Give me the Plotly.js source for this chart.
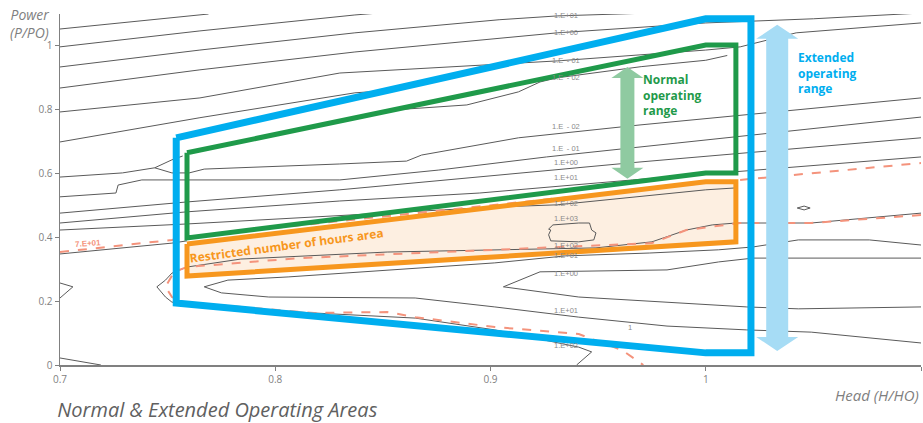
<!DOCTYPE html>
<html><head><meta charset="utf-8">
<script src="https://cdn.plot.ly/plotly-3.0.1.min.js"></script>
<style>body{margin:0;background:#fff}#c{width:923px;height:423px}</style>
</head><body><div id="c"></div>
<script>
// ---- contour lines (x = Head H/HO, y = Power P/PO) ----
const C1 = [[0.700,1.053],[0.769,1.100]];
const C2 = [[0.700,0.997],[0.765,1.047],[0.837,1.097],[0.848,1.103]];
const C3 = [[0.700,0.934],[0.765,0.987],[0.837,1.041],[0.904,1.082],[0.931,1.094],[0.974,1.103]];
const C4 = [[0.700,0.868],[0.765,0.925],[0.837,0.981],[0.931,1.041],[1.000,1.072],[1.050,1.085],[1.100,1.103]];
const C5 = [[0.700,0.793],[0.765,0.837],[0.830,0.915],[0.931,0.953],[1.000,0.987],[1.016,0.997],[1.042,1.041],[1.100,1.072]];
const C6 = [[0.700,0.699],[0.765,0.775],[0.837,0.853],[0.852,0.860]];
const K1 = [[0.854,0.799],[0.889,0.815],[0.913,0.856],[0.923,0.887],[0.931,0.900],[0.970,0.935],[1.000,0.955],[1.010,0.970]];
const M1 = [[0.700,0.589],[0.729,0.602],[0.744,0.618],[0.752,0.643],[0.757,0.655]];
const M1b = [[0.744,0.618],[0.752,0.602],[0.760,0.602],[0.767,0.614],[0.830,0.630],[0.861,0.639],[0.868,0.658],[0.913,0.712],[0.969,0.752],[1.100,0.837]];
const M2 = [[0.700,0.527],[0.726,0.539],[0.727,0.564],[0.738,0.580],[0.830,0.580],[0.876,0.611],[0.926,0.652],[0.969,0.683],[1.100,0.777]];
const M3 = [[0.700,0.476],[0.759,0.511],[0.830,0.549],[0.969,0.636],[1.100,0.712]];
const M4 = [[0.700,0.445],[0.759,0.480],[0.830,0.514],[0.895,0.539],[0.966,0.580],[1.100,0.652]];
const M5 = [[0.700,0.423],[0.759,0.442],[0.902,0.495],[0.931,0.502],[1.000,0.549],[1.014,0.555]];
const G7 = [[0.700,0.348],[0.752,0.382],[0.759,0.389]];
const L1 = [[1.100,0.476],[1.049,0.445],[1.014,0.445],[1.003,0.439],[0.991,0.423],[0.975,0.386],[0.949,0.367],[0.895,0.361],[0.852,0.354],[0.784,0.332],[0.759,0.307],[0.752,0.288],[0.749,0.266],[0.745,0.245],[0.749,0.213],[0.752,0.197],[0.788,0.176],[0.818,0.163],[0.865,0.147],[0.902,0.110],[0.931,0.069],[0.941,0.056],[0.947,0.041],[0.940,0.000]];
const L2 = [[1.100,0.376],[1.076,0.392],[1.043,0.392],[1.022,0.370],[1.006,0.361],[0.974,0.351],[0.935,0.342],[0.902,0.320],[0.806,0.276],[0.778,0.266],[0.767,0.245],[0.775,0.226],[0.797,0.213],[0.865,0.210],[0.902,0.182],[0.941,0.150],[0.982,0.122],[1.019,0.110],[1.049,0.103],[1.100,0.069]];
const L3 = [[1.100,0.335],[1.022,0.335],[1.006,0.323],[0.996,0.313],[0.982,0.298],[0.923,0.292],[0.906,0.245],[0.941,0.213],[1.019,0.182],[1.043,0.176],[1.100,0.182]];
const B1 = [[0.700,0.022],[0.719,0.000]];
const B2 = [[0.700,0.257],[0.706,0.245],[0.700,0.210]];
const LOOP3 = [[0.927,0.426],[0.929,0.439],[0.941,0.445],[0.946,0.445],[0.947,0.423],[0.949,0.414],[0.948,0.392],[0.941,0.386],[0.928,0.389],[0.927,0.408],[0.928,0.423],[0.927,0.426]];
const TINY = [[1.0425,0.492],[1.0457,0.498],[1.0485,0.492],[1.0457,0.486],[1.0425,0.492]];
const grayLines = [C1,C2,C3,C4,C5,C6,K1,M1,M1b,M2,M3,M4,M5,G7,L1,L2,L3,B1,B2,LOOP3,TINY];

// dashed 7.E+01 contour
const D1 = [[0.700,0.354],[0.752,0.392],[0.759,0.401],[0.902,0.502],[1.000,0.571],[1.016,0.580],[1.100,0.633]];
const D2 = [[1.100,0.470],[1.049,0.445],[1.016,0.445],[0.991,0.423],[0.975,0.382],[0.902,0.361],[0.811,0.335],[0.759,0.307],[0.753,0.292],[0.749,0.245],[0.752,0.213],[0.757,0.197],[0.818,0.163],[0.852,0.166],[0.865,0.150],[0.902,0.119],[0.941,0.097],[0.961,0.047],[0.971,0.000]];

// operating areas
const extendedArea = [[0.754,0.712],[1.000,1.085],[1.021,1.085],[1.021,0.038],[1.000,0.038],[0.754,0.194],[0.754,0.712]];
const normalArea = [[0.759,0.665],[1.000,1.003],[1.014,1.003],[1.014,0.602],[1.000,0.602],[0.759,0.398],[0.759,0.665]];
const restrictedArea = [[0.759,0.379],[1.000,0.574],[1.014,0.574],[1.014,0.386],[0.759,0.279],[0.759,0.379]];

// range arrows: [x, yBottom, yTop]
const normalArrow = [0.9636, 0.584, 0.934];
const extendedArrow = [1.0332, 0.044, 1.066];

// contour labels
const labelText = ["1.E+01","1.E+00","1.E\u2009 - 01","1.E\u2009 - 02","1.E\u2009 - 02","1.E\u2009 - 01","1.E+00","1.E+01","1.E+02","1.E+03","1.E+02","1.E+01","1.E+00","1.E+01","1","1.E+02"];
const labelX = [0.935,0.935,0.935,0.935,0.935,0.935,0.935,0.935,0.935,0.935,0.935,0.935,0.935,0.935,0.965,0.935];
const labelY = [1.094,1.041,0.953,0.900,0.746,0.680,0.636,0.589,0.505,0.458,0.373,0.342,0.288,0.172,0.119,0.060];

const xTicks = [0.7,0.8,0.9,1,1.1];
const yTicks = [0,0.2,0.4,0.6,0.8,1];

const xs = l => l.map(p=>p[0]), ys = l => l.map(p=>p[1]);
const traces = [];
// restricted-area fill under the contours
traces.push({x:xs(restrictedArea), y:ys(restrictedArea), mode:'lines', fill:'toself', fillcolor:'#fdefe1', line:{width:0, color:'rgba(0,0,0,0)'}, hoverinfo:'skip', showlegend:false});
grayLines.forEach(l => traces.push({x:xs(l), y:ys(l), mode:'lines', line:{color:'#5a5a5a', width:1}, hoverinfo:'skip', showlegend:false}));
[D1,D2].forEach(l => traces.push({x:xs(l), y:ys(l), mode:'lines', line:{color:'#f4937c', width:2, dash:'dash'}, hoverinfo:'skip', showlegend:false}));
traces.push({x:xs(restrictedArea), y:ys(restrictedArea), mode:'lines', line:{color:'#f7971e', width:5}, hoverinfo:'skip', showlegend:false});
traces.push({x:xs(normalArea), y:ys(normalArea), mode:'lines', line:{color:'#1f9a4a', width:5}, hoverinfo:'skip', showlegend:false});
traces.push({x:xs(extendedArea), y:ys(extendedArea), mode:'lines', line:{color:'#00aeef', width:7}, hoverinfo:'skip', showlegend:false});

// arrow shapes (sizes in px converted through axis scale)
const xPerPx = 0.4/861, yPerPx = 1.1/351;
function arrowPath(a, shaftPx, headPx, headHPx){
  const [x, y0, y1] = a;
  const s = shaftPx/2*xPerPx, h = headPx/2*xPerPx, hh = headHPx*yPerPx;
  const pts = [[x,y1],[x+h,y1-hh],[x+s,y1-hh],[x+s,y0+hh],[x+h,y0+hh],[x,y0],[x-h,y0+hh],[x-s,y0+hh],[x-s,y1-hh],[x-h,y1-hh]];
  return 'M' + pts.map(p=>p[0]+','+p[1]).join(' L') + ' Z';
}
const shapes = [
  {type:'path', xref:'x', yref:'y', path:arrowPath(normalArrow,14,32,11), fillcolor:'#8fcaa1', line:{width:0}, layer:'above'},
  {type:'path', xref:'x', yref:'y', path:arrowPath(extendedArrow,22,42,14), fillcolor:'#a6dcf5', line:{width:0}, layer:'above'}
];

const annotations = labelText.map((t,i)=>({x:labelX[i], y:labelY[i], text:t, showarrow:false, font:{family:'Liberation Sans, Arial', size:7.5, color:'#8a8a8a'}}));
annotations.push({x:0.713, y:0.382, text:'7.E+01', showarrow:false, textangle:-4, font:{family:'Liberation Sans, Arial', size:8, color:'#f4937c', weight:700}});
annotations.push({x:0.970, y:0.846, xanchor:'left', align:'left', text:'Normal<br>operating<br>range', showarrow:false, font:{family:'Open Sans', size:12, color:'#1f9a4a', weight:700}});
annotations.push({x:1.042, y:0.915, xanchor:'left', align:'left', text:'Extended<br>operating<br>range', showarrow:false, font:{family:'Open Sans', size:12, color:'#00aeef', weight:700}});
annotations.push({x:0.805, y:0.373, text:'Restricted number of hours area', showarrow:false, textangle:-7.5, font:{family:'Open Sans', size:12, color:'#f7971e', weight:700}});
annotations.push({xref:'paper', yref:'paper', x:-0.011, y:1.0, xanchor:'right', yanchor:'bottom', align:'right', text:'<i>Power<br>(P/PO)</i>', showarrow:false, yshift:-30, font:{family:'Open Sans', size:14, color:'#7f7f7f'}});
annotations.push({xref:'paper', yref:'paper', x:1.0, y:0, xanchor:'right', yanchor:'top', text:'<i>Head (H/HO)</i>', showarrow:false, yshift:-18, font:{family:'Open Sans', size:15, color:'#7f7f7f'}});

const layout = {
  width:923, height:423,
  margin:{l:60, r:2, t:14, b:58},
  paper_bgcolor:'#fff', plot_bgcolor:'#fff',
  showlegend:false,
  title:{text:'<i>Normal & Extended Operating Areas</i>', x:0.062, xanchor:'left', y:0.03, yanchor:'middle', font:{family:'Open Sans', size:20, color:'#606060'}},
  xaxis:{range:[0.7,1.1], tickvals:xTicks, ticktext:xTicks.map(String), showgrid:false, zeroline:false, showline:true, linecolor:'#808080', linewidth:1.5, ticks:'outside', ticklen:4, tickcolor:'#808080', tickfont:{family:'Open Sans', size:10, color:'#7f7f7f'}},
  yaxis:{range:[0,1.1], tickvals:yTicks, ticktext:yTicks.map(String), showgrid:false, zeroline:false, showline:true, linecolor:'#808080', linewidth:1.5, ticks:'outside', ticklen:4, tickcolor:'#808080', tickfont:{family:'Open Sans', size:10, color:'#7f7f7f'}},
  shapes:shapes, annotations:annotations
};
Plotly.newPlot('c', traces, layout, {displayModeBar:false, staticPlot:true});
</script></body></html>
